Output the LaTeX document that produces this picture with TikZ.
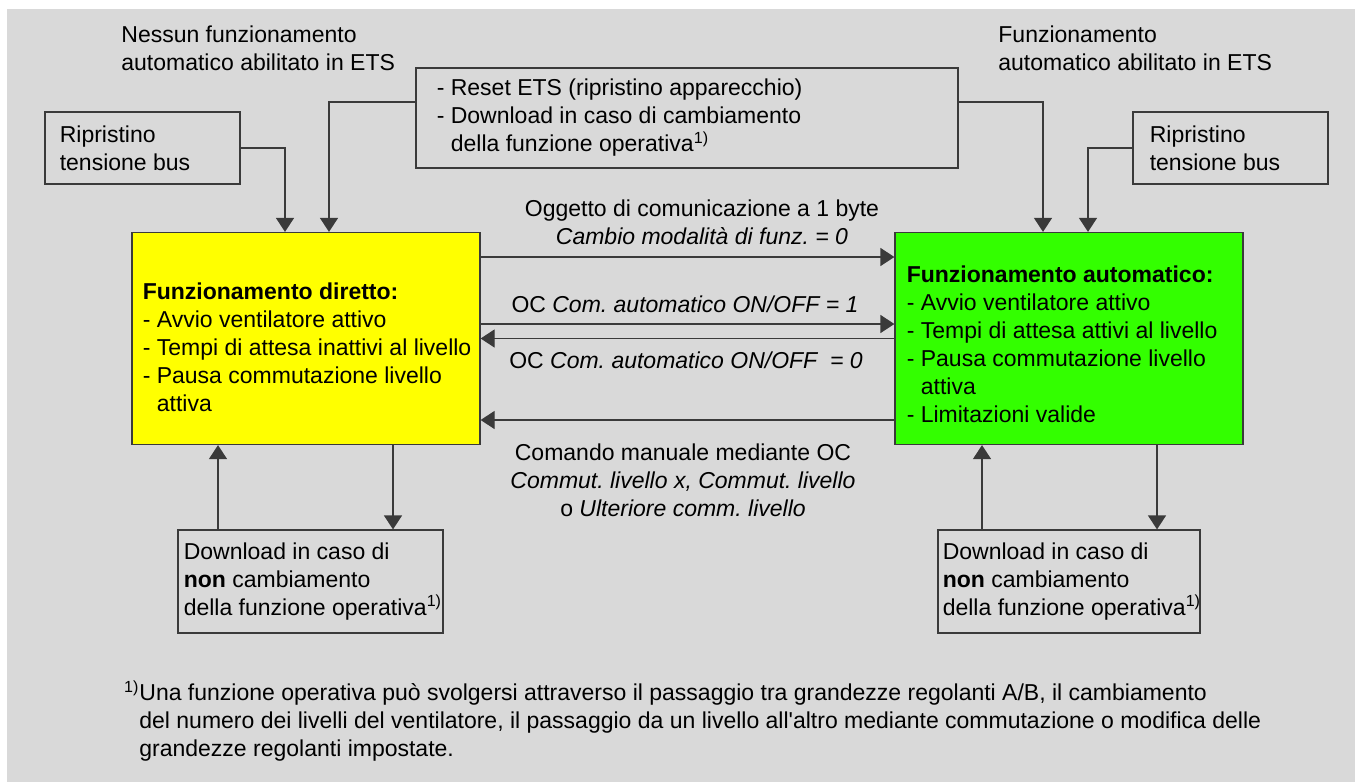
\documentclass[tikz,border=0pt]{standalone}
\usepackage{fontspec}
\setmainfont{Liberation Sans}[Ligatures=TeXOff]
\usetikzlibrary{arrows.meta,positioning}
\definecolor{bggrey}{HTML}{D9D9D9}
\definecolor{linegrey}{HTML}{3A3A3A}
\definecolor{modeyellow}{HTML}{FFFF00}
\definecolor{modegreen}{HTML}{33FF00}
\newcommand{\fnmark}{\textsuperscript{1)}}
\frenchspacing

\begin{document}
\begin{tikzpicture}[x=0.5pt,y=-0.5pt,
    font=\fontsize{11.5}{14}\selectfont,
    txt/.style={inner sep=0pt,align=left},
    infobox/.style={draw=linegrey,line width=0.6pt},
    modebox/.style={draw=linegrey,line width=0.6pt,minimum width=174pt,minimum height=106pt},
    arr/.style={draw=linegrey,line width=0.6pt,-{Triangle[length=7pt,width=9pt]}}
  ]
  \useasboundingbox (0,0) rectangle (1355,782);
  \fill[bggrey] (7,9) rectangle (1355,782);

  % headings
  \node[txt,anchor=north west] (noauto) at (121,25) {Nessun funzionamento\\automatico abilitato in ETS};
  \node[txt,anchor=north west] (withauto) at (998,25) {Funzionamento\\automatico abilitato in ETS};

  % boxes
  \node[infobox,minimum width=97.5pt,minimum height=36pt] (ripleft) at (142.5,148) {};
  \node[txt,right=7.5pt of ripleft.west] (ripleftText) {Ripristino\\tensione bus};
  \node[infobox,minimum width=97.5pt,minimum height=36pt] (ripright) at (1230.5,148) {};
  \node[txt,right=8.5pt of ripright.west] (riprightText) {Ripristino\\tensione bus};
  \node[infobox,minimum width=271pt,minimum height=50pt] (ets) at (687,118) {};
  \node[txt,right=10.5pt of ets.west] (etsText)
       {- Reset ETS (ripristino apparecchio)\\- Download in caso di cambiamento\\\phantom{- }della funzione operativa\fnmark};

  \node[modebox,fill=modeyellow] (direct) at (306,338.5) {};
  \node[txt,right=5.5pt of direct.west,yshift=-4.5pt] (directText)
       {\textbf{Funzionamento diretto:}\\- Avvio ventilatore attivo\\- Tempi di attesa inattivi al livello\\- Pausa commutazione livello\\\phantom{- }attiva};
  \node[modebox,fill=modegreen] (auto) at (1069,338.5) {};
  \node[txt,right=6pt of auto.west,yshift=-3pt] (autoText)
       {\textbf{Funzionamento automatico:}\\- Avvio ventilatore attivo\\- Tempi di attesa attivi al livello\\- Pausa commutazione livello\\\phantom{- }attiva\\- Limitazioni valide};

  \node[infobox,minimum width=132.5pt,minimum height=51.5pt] (dlleft) at (310.5,581.5) {};
  \node[txt,right=3pt of dlleft.west] (dlleftText)
       {Download in caso di\\\textbf{non} cambiamento\\della funzione operativa\fnmark};
  \node[infobox,minimum width=131pt,minimum height=51.5pt] (dlright) at (1069,581.5) {};
  \node[txt,right=2.5pt of dlright.west] (dlrightText)
       {Download in caso di\\\textbf{non} cambiamento\\della funzione operativa\fnmark};

  % connectors from above
  \draw[arr] (ripleft.east) -| ([xshift=-10.5pt]direct.north);
  \draw[arr] ([yshift=8pt]ets.west) -| ([xshift=11.5pt]direct.north);
  \draw[arr] ([yshift=8pt]ets.east) -| ([xshift=-13pt]auto.north);
  \draw[arr] (ripright.west) -| ([xshift=9.5pt]auto.north);

  % transitions
  \draw[arr] ([yshift=40.75pt]direct.east) -- ([yshift=40.75pt]auto.west);
  \draw[arr] ([yshift=7.25pt]direct.east) -- ([yshift=7.25pt]auto.west);
  \draw[arr] (auto.west) -- (direct.east);
  \draw[arr] ([yshift=-40.75pt]auto.west) -- ([yshift=-40.75pt]direct.east);

  \node[txt,anchor=north,align=center] (lblbyte) at (702,199)
       {Oggetto di comunicazione a 1 byte\\\textit{Cambio modalità di funz. = 0}};
  \node[txt,anchor=base] (lblon) at (685,312) {OC \textit{Com. automatico ON/OFF = 1}};
  \node[txt,anchor=base] (lbloff) at (686,368) {OC \textit{Com. automatico ON/OFF \ = 0}};
  \node[txt,anchor=north,align=center] (lblman) at (683,443)
       {Comando manuale mediante OC\\\textit{Commut. livello x, Commut. livello}\\o \textit{Ulteriore comm. livello}};

  % downloads below
  \draw[arr] ([xshift=-44pt]direct.south |- dlleft.north) -- ([xshift=-44pt]direct.south);
  \draw[arr] ([xshift=43.5pt]direct.south) -- ([xshift=43.5pt]direct.south |- dlleft.north);
  \draw[arr] ([xshift=-43.5pt]auto.south |- dlright.north) -- ([xshift=-43.5pt]auto.south);
  \draw[arr] ([xshift=44pt]auto.south) -- ([xshift=44pt]auto.south |- dlright.north);

  % footnote
  \node[txt,anchor=north west] (fnote) at (139,680)
       {\llap{\fnmark}Una funzione operativa può svolgersi attraverso il passaggio tra grandezze regolanti A/B, il cambiamento\\
        del numero dei livelli del ventilatore, il passaggio da un livello all'altro mediante commutazione o modifica delle\\
        grandezze regolanti impostate.};
\end{tikzpicture}
\end{document}
